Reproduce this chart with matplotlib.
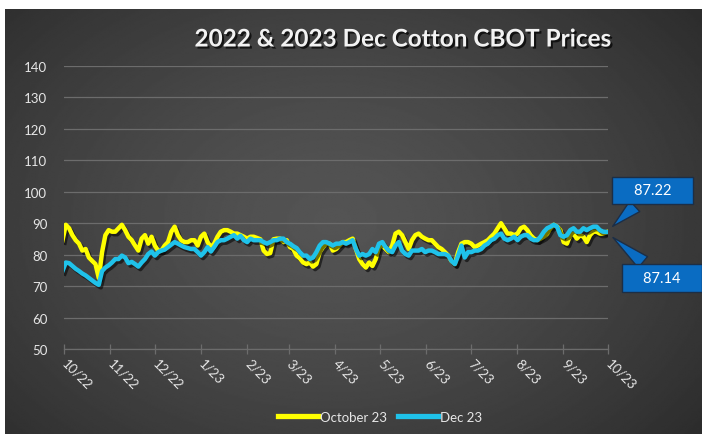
import numpy as np
import pandas as pd
import matplotlib
matplotlib.use("Agg")
import matplotlib.pyplot as plt
import matplotlib.patheffects as pe
from matplotlib.lines import Line2D


# daily-ish settlement closes, Oct 2022 -> Sep 2023
oct23 = [
    84.6, 89.5, 88.4, 86.2, 84.6, 83.5, 81.3, 81.8, 79.1, 78.0,
    77.0, 72.6, 80.8, 86.2, 87.8, 87.3, 87.3, 88.4, 89.5, 87.8,
    85.7, 84.6, 82.9, 81.3, 85.1, 86.2, 83.5, 85.7, 82.9, 81.3,
    81.3, 82.9, 84.0, 87.3, 88.9, 86.2, 84.6, 84.0, 84.0, 84.6,
    84.6, 82.9, 85.7, 86.7, 84.0, 82.4, 83.5, 85.7, 87.3, 87.8,
    87.8, 87.3, 86.7, 86.7, 86.2, 85.7, 85.1, 85.7, 85.7, 85.3,
    84.9, 81.3, 80.2, 80.5, 84.9, 85.1, 85.1, 84.0, 84.6, 82.4,
    81.8, 79.7, 78.8, 77.5, 77.0, 77.5, 76.2, 77.0, 80.8, 82.4,
    83.5, 83.5, 81.3, 81.8, 82.9, 84.0, 84.0, 84.6, 85.1, 81.8,
    78.6, 77.0, 75.9, 77.5, 76.4, 78.6, 82.4, 82.9, 81.8, 80.8,
    82.9, 86.7, 87.3, 86.2, 84.0, 81.8, 84.6, 86.2, 86.7, 85.7,
    85.1, 84.6, 84.6, 83.5, 82.4, 81.8, 80.8, 79.7, 78.0, 77.0,
    80.8, 83.5, 84.0, 84.0, 83.5, 82.4, 82.9, 83.5, 84.0, 84.6,
    85.7, 86.7, 88.4, 90.0, 88.4, 86.7, 86.7, 86.2, 86.7, 88.4,
    88.9, 87.8, 86.2, 85.1, 84.6, 85.1, 85.7, 86.7, 88.4, 89.5,
    88.9, 87.8, 84.0, 83.5, 86.2, 86.7, 85.1, 86.2, 85.7, 84.0,
    86.2, 87.3, 87.3, 86.7, 86.7, 87.14,
]
dec23 = [
    74.8, 77.5, 77.3, 76.4, 75.5, 74.8, 74.0, 73.4, 72.6, 71.8,
    71.0, 70.4, 74.8, 75.9, 76.6, 77.5, 78.6, 78.6, 79.7, 79.1,
    77.3, 77.7, 77.0, 76.2, 77.5, 78.6, 80.2, 81.0, 79.7, 80.8,
    81.3, 81.6, 82.4, 83.2, 84.0, 83.5, 82.9, 82.4, 82.1, 81.8,
    81.8, 80.8, 79.7, 80.8, 82.4, 81.0, 82.4, 84.0, 84.6, 84.6,
    85.1, 85.7, 86.2, 85.1, 86.0, 84.6, 84.0, 85.1, 84.6, 84.6,
    84.6, 84.0, 83.5, 84.0, 84.6, 84.6, 85.1, 85.1, 84.0, 83.5,
    82.7, 82.1, 80.8, 79.7, 79.7, 78.6, 79.1, 80.8, 82.9, 84.0,
    84.0, 83.5, 82.9, 83.5, 83.5, 84.0, 83.5, 84.0, 84.6, 81.8,
    79.7, 80.2, 79.7, 80.2, 81.8, 80.8, 83.5, 84.0, 82.4, 81.3,
    80.8, 82.9, 84.0, 81.3, 80.2, 79.7, 81.3, 81.3, 81.3, 81.8,
    80.8, 81.3, 81.3, 80.8, 80.2, 80.2, 80.2, 79.7, 78.0, 77.0,
    79.7, 82.9, 79.1, 80.8, 80.8, 81.3, 81.3, 81.8, 82.9, 83.5,
    84.6, 85.1, 86.2, 86.7, 85.1, 84.6, 85.1, 85.7, 84.6, 85.7,
    86.2, 86.2, 85.1, 84.6, 84.6, 85.7, 87.3, 88.4, 88.9, 89.5,
    88.9, 86.2, 85.7, 86.2, 87.8, 88.4, 87.3, 87.3, 88.4, 87.8,
    88.4, 88.9, 88.9, 87.8, 87.3, 87.22,
]
month_labels = ["10/22", "11/22", "12/22", "1/23", "2/23", "3/23", "4/23",
                "5/23", "6/23", "7/23", "8/23", "9/23", "10/23"]
y_ticks = [50, 60, 70, 80, 90, 100, 110, 120, 130, 140]

dates = pd.date_range("2022-09-30", "2023-09-30", periods=len(dec23))
months = pd.date_range("2022-10-01", "2023-10-01", freq="MS")

plt.rcParams["font.family"] = ["Lato", "DejaVu Sans"]
TXT = "#e6e6e6"
GRID = "#6c6c6c"
YELLOW = "#ffff00"
CYAN = "#1fc2ea"
BLUE = "#0a6cc2"

fig = plt.figure(figsize=(7.02, 4.35), dpi=100)
fig.patch.set_facecolor("white")

# dark radial backdrop
bg = fig.add_axes([5 / 702, 0, 697 / 702, 425 / 435])
bg.axis("off")
gy, gx = np.mgrid[0:1:300j, 0:1:480j]
r = np.sqrt(((gx - 0.47) / 0.72) ** 2 + ((gy - 0.5) / 0.85) ** 2)
shade = 0.33 - 0.17 * np.clip(r, 0, 1) ** 1.4
bg.imshow(shade, cmap="gray", vmin=0, vmax=1, aspect="auto",
          extent=[0, 1, 0, 1], interpolation="bilinear")

ax = fig.add_axes([64 / 702, 85 / 435, 544 / 702, 283 / 435])
ax.set_facecolor("none")

shadow = [pe.SimpleLineShadow(offset=(1.5, -1.8), shadow_color="black", alpha=0.55),
          pe.Normal()]
ax.plot(dates, oct23, color=YELLOW, lw=3.2, path_effects=shadow, zorder=3)
ax.plot(dates, dec23, color=CYAN, lw=3.2, path_effects=shadow, zorder=4)

ax.set_ylim(50, 140)
ax.set_yticks(y_ticks)
ax.set_xlim(months[0], months[-1])
ax.set_xticks(months)
ax.set_xticklabels(month_labels, rotation=-45, ha="left", va="center",
                   rotation_mode="anchor")
ax.grid(axis="y", color=GRID, lw=0.9)
ax.set_axisbelow(True)
for side in ["top", "right", "left"]:
    ax.spines[side].set_visible(False)
ax.spines["bottom"].set_color(GRID)
ax.spines["bottom"].set_linewidth(0.9)
ax.tick_params(axis="y", length=0, pad=12, colors=TXT, labelsize=9.5)
ax.tick_params(axis="x", direction="inout", length=7, width=0.9, color=GRID,
               colors=TXT, labelsize=9.5, pad=5)
for lab in ax.get_xticklabels():
    lab.set_color(TXT)

fig.text(402 / 702, 395 / 435, "2022 & 2023 Dec Cotton CBOT Prices",
         ha="center", va="center", fontsize=17.5, fontweight="bold", color="#f2f2f2",
         path_effects=[pe.withSimplePatchShadow(offset=(1.5, -1.5),
                                                shadow_rgbFace="black", alpha=0.7)])

# end-of-series callouts
box = dict(boxstyle="square,pad=0.45", fc=BLUE, ec="#1c2e46", lw=1.0)
ax.annotate("    87.22    ", xy=(dates[-1], dec23[-1]), xytext=(33, 30),
            textcoords="offset points", ha="center", va="center", color="white",
            fontsize=10.5, bbox=box, annotation_clip=False,
            arrowprops=dict(arrowstyle="wedge,tail_width=1.0", fc=BLUE,
                            ec="#1c2e46", lw=1.0, shrinkB=6))
ax.annotate("    87.14    ", xy=(dates[-1], oct23[-1]), xytext=(40, -33),
            textcoords="offset points", ha="center", va="center", color="white",
            fontsize=10.5, bbox=box, annotation_clip=False,
            arrowprops=dict(arrowstyle="wedge,tail_width=1.0", fc=BLUE,
                            ec="#1c2e46", lw=1.0, shrinkB=6))

handles = [Line2D([], [], color=YELLOW, lw=3.8), Line2D([], [], color=CYAN, lw=3.8)]
fig.legend(handles, ["October 23", "Dec 23"], loc="center",
           bbox_to_anchor=(380 / 702, 17 / 435), ncol=2, frameon=False,
           handlelength=3.0, handletextpad=0.15, columnspacing=0.9,
           fontsize=9.5, labelcolor=TXT)

fig.savefig("out.png", dpi=100)
